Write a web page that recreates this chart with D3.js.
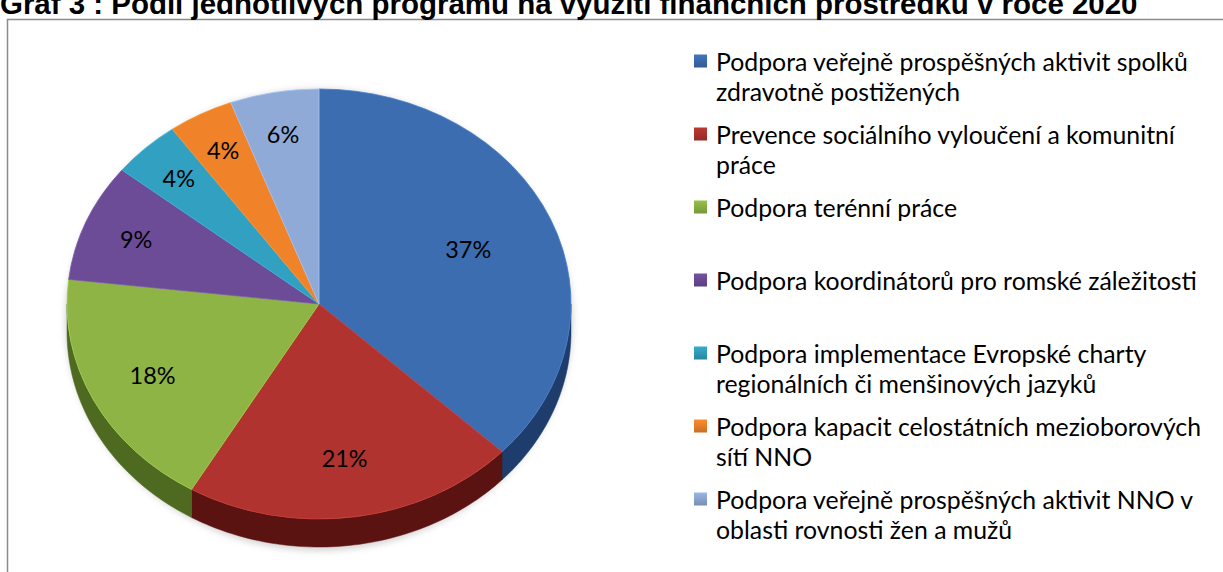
<!DOCTYPE html>
<html><head><meta charset="utf-8">
<script src="https://cdn.jsdelivr.net/npm/d3@7"></script>
<style>
html,body{margin:0;padding:0;background:#fff;overflow:hidden}
svg{display:block}
</style></head>
<body>
<svg id="chart" width="1223" height="572"></svg>
<script>
const titleText = "Graf 3 : Podíl jednotlivých programů na využití finančních prostředků v roce 2020";
const categories = [
  "Podpora veřejně prospěšných aktivit spolků\nzdravotně postižených",
  "Prevence sociálního vyloučení a komunitní\npráce",
  "Podpora terénní práce",
  "Podpora koordinátorů pro romské záležitosti",
  "Podpora implementace Evropské charty\nregionálních či menšinových jazyků",
  "Podpora kapacit celostátních mezioborových\nsítí NNO",
  "Podpora veřejně prospěšných aktivit NNO v\noblasti rovnosti žen a mužů"
];
const shares = [37.1, 21.4, 18.4, 8.9, 4.4, 4.2, 5.7];
const topColors  = ["#3d6db1", "#b0332f", "#8db444", "#6d4c97", "#31a0c1", "#f0832a", "#8faad6"];
const sideColors = ["#1e3c6c", "#5a1311", "#4e6a21", "#3e2a5a", "#1a5d70", "#8f4a12", "#566a8a"];

const svg = d3.select("#chart");
const W = 1223, H = 572;
const FONT = "Lato, Noto Sans, sans-serif";

// helper: fit font size so that text reaches target width
function fitSize(sel, target) {
  const w = sel.node().getComputedTextLength();
  const fs = parseFloat(sel.attr("font-size"));
  return fs * target / w;
}

// frame
svg.append("rect").attr("x", 7.5).attr("y", 19.5).attr("width", W).attr("height", H)
  .attr("fill", "#fff").attr("stroke", "#8c8c8c").attr("stroke-width", 1.5);

// title (clipped at the top as in the reference)
const title = svg.append("text").attr("x", 0).attr("y", 14)
  .attr("font-family", "Liberation Sans, Arial, sans-serif").attr("font-weight", "bold")
  .attr("font-size", 22).attr("fill", "#000").text(titleText);
title.attr("font-size", fitSize(title, 1138));

// pie geometry
const cx = 319, cy = 304, rx = 252, ry = 215, depth = 28;
const pie = d3.pie().sort(null).value(d => d)(shares);
const total = d3.sum(shares);
const fmt = d3.format(".0%");

const defs = svg.append("defs");
const shadow = defs.append("filter").attr("id", "soft").attr("x", "-10%").attr("y", "-10%").attr("width", "120%").attr("height", "120%");
shadow.append("feGaussianBlur").attr("stdDeviation", 3);

const pt = (a, dy) => [cx + rx * Math.sin(a), cy - ry * Math.cos(a) + (dy || 0)];

// soft shadow under the pie
svg.append("ellipse").attr("cx", cx).attr("cy", cy + depth / 2 + 2).attr("rx", rx + 2).attr("ry", ry + depth / 2 + 2)
  .attr("fill", "#bbb").attr("filter", "url(#soft)").attr("opacity", 0.6);

// side walls (front half only)
const line = d3.line();
pie.forEach((s, i) => {
  const a0 = Math.max(s.startAngle, Math.PI / 2), a1 = Math.min(s.endAngle, 3 * Math.PI / 2);
  if (a1 <= a0) return;
  const n = 60;
  const topPts = d3.range(n + 1).map(k => pt(a0 + (a1 - a0) * k / n));
  const botPts = topPts.slice().reverse().map(p => [p[0], p[1] + depth]);
  svg.append("path").attr("d", line(topPts.concat(botPts)) + "Z")
    .attr("fill", sideColors[i]).attr("stroke", sideColors[i]).attr("stroke-width", 0.5);
});

// top faces via d3.arc in a vertically squashed group
const arc = d3.arc().innerRadius(0).outerRadius(rx);
const topG = svg.append("g").attr("transform", `translate(${cx},${cy}) scale(1,${ry / rx})`);
topG.selectAll("path").data(pie).join("path")
  .attr("d", arc)
  .attr("fill", (d, i) => topColors[i])
  .attr("stroke", (d, i) => d3.color(topColors[i]).brighter(0.4))
  .attr("stroke-width", 0.8)
  .attr("vector-effect", "non-scaling-stroke");

// data labels
const labels = svg.append("g").selectAll("text").data(pie).join("text")
  .attr("x", d => { const a = (d.startAngle + d.endAngle) / 2, k = 0.83 - 0.5 * d.value / total; return cx + k * rx * Math.sin(a); })
  .attr("y", d => { const a = (d.startAngle + d.endAngle) / 2, k = 0.83 - 0.5 * d.value / total; return cy - k * ry * Math.cos(a); })
  .attr("text-anchor", "middle").attr("dominant-baseline", "central")
  .attr("font-family", FONT).attr("font-size", 18).attr("fill", "#000")
  .text(d => fmt(d.value / total));
const lblSize = fitSize(d3.select(labels.nodes()[0]), 46);
labels.attr("font-size", lblSize);

// legend
const legX = 694, legY0 = 61, legStep = 73, lineH = 29.5;
const leg = svg.append("g");
const probe = leg.append("text").attr("font-family", FONT).attr("font-size", 20).text(categories[3]);
const legSize = fitSize(probe, 481);
probe.remove();
categories.forEach((c, i) => {
  const y = legY0 + i * legStep;
  const g = defs.append("linearGradient").attr("id", "sq" + i).attr("x1", 0).attr("y1", 0).attr("x2", 0).attr("y2", 1);
  g.append("stop").attr("offset", "0%").attr("stop-color", d3.color(topColors[i]).brighter(0.2));
  g.append("stop").attr("offset", "100%").attr("stop-color", d3.color(topColors[i]).darker(0.5));
  leg.append("rect").attr("x", legX).attr("y", y - 6.5).attr("width", 13).attr("height", 13).attr("fill", `url(#sq${i})`);
  const t = leg.append("text").attr("x", legX + 22).attr("y", y)
    .attr("font-family", FONT).attr("font-size", legSize).attr("fill", "#000")
    .attr("dominant-baseline", "central");
  c.split("\n").forEach((ln, j) => {
    t.append("tspan").attr("x", legX + 22).attr("y", y + j * lineH).text(ln);
  });
});
</script>
</body></html>
